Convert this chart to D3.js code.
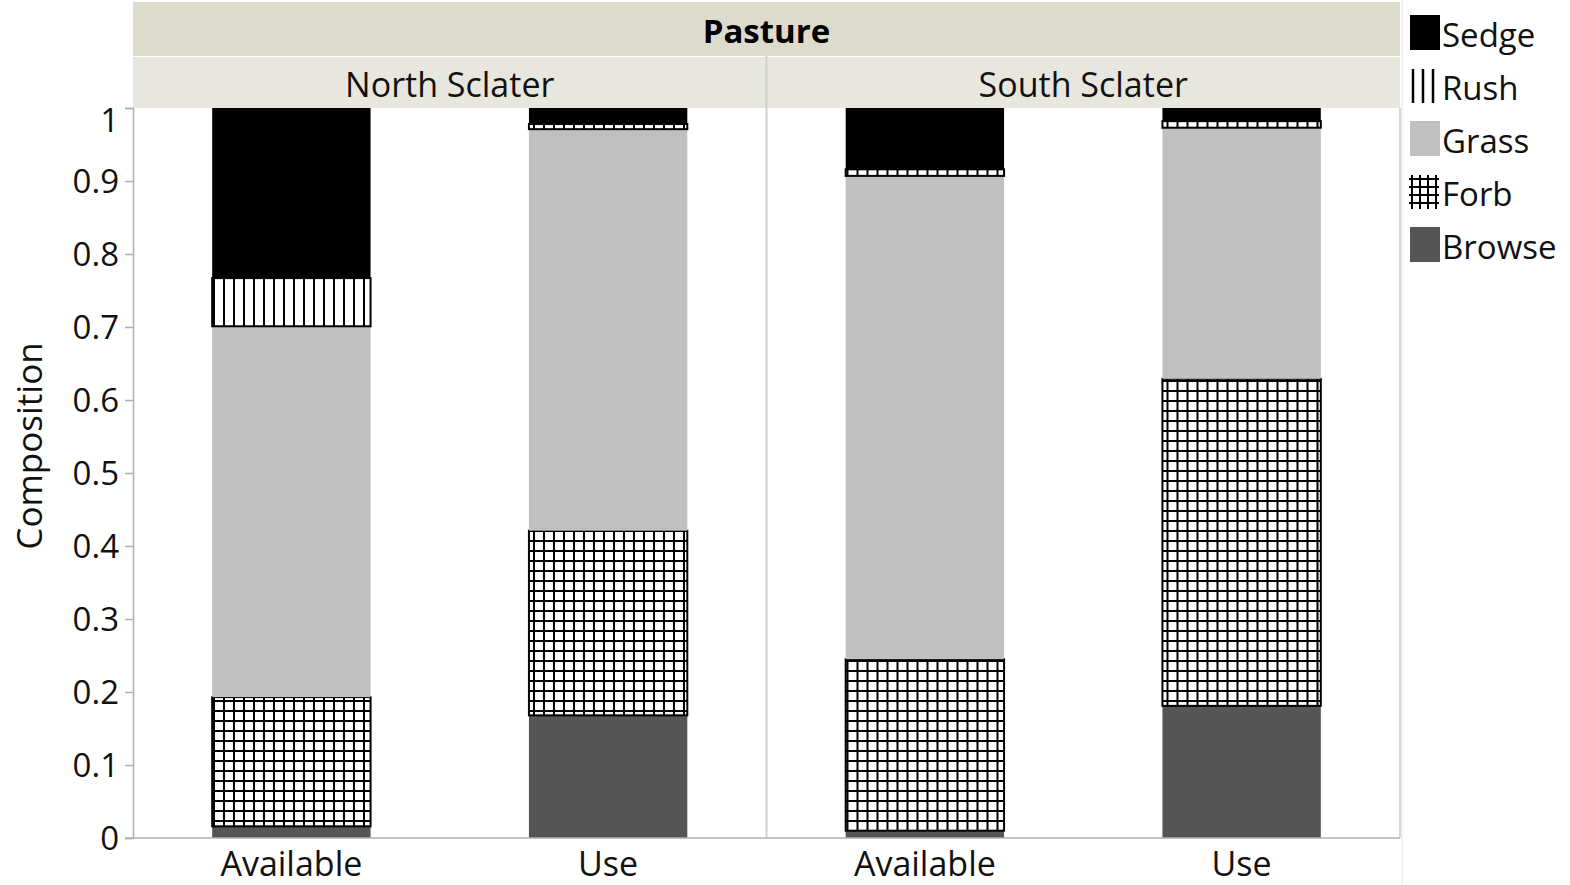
<!DOCTYPE html>
<html><head><meta charset="utf-8">
<script src="https://cdn.jsdelivr.net/npm/d3@7"></script>
<style>body{margin:0;background:#fff;} text{font-family:"Open Sans","Noto Sans",sans-serif;}</style>
</head><body><svg id="c" width="1570" height="885"></svg>
<script>
// ---- data ----
const facetTitle = "Pasture";
const panels = ["North Sclater", "South Sclater"];
const categories = ["Available", "Use"];
const components = ["Browse", "Forb", "Grass", "Rush", "Sedge"]; // bottom to top
const legendOrder = ["Sedge", "Rush", "Grass", "Forb", "Browse"];
// values per panel, per category, in components order
const northAvailable = [0.016, 0.177, 0.508, 0.066, 0.233];
const northUse       = [0.168, 0.253, 0.550, 0.007, 0.022];
const southAvailable = [0.010, 0.235, 0.662, 0.009, 0.084];
const southUse       = [0.181, 0.448, 0.344, 0.009, 0.018];
const yTicks = [0, 0.1, 0.2, 0.3, 0.4, 0.5, 0.6, 0.7, 0.8, 0.9, 1];
const yTitle = "Composition";

const panelData = [[northAvailable, northUse], [southAvailable, southUse]];

const svg = d3.select("#c");
const defs = svg.append("defs");
// patterns
const pr = defs.append("pattern").attr("id","rush").attr("patternUnits","userSpaceOnUse")
  .attr("width",10).attr("height",10);
pr.append("rect").attr("width",10).attr("height",10).attr("fill","#fff");
pr.append("rect").attr("x",0).attr("y",0).attr("width",2).attr("height",10).attr("fill","#000");
const pf = defs.append("pattern").attr("id","forb").attr("patternUnits","userSpaceOnUse")
  .attr("width",10).attr("height",10);
pf.append("rect").attr("width",10).attr("height",10).attr("fill","#fff");
pf.append("rect").attr("x",0).attr("y",0).attr("width",2).attr("height",10).attr("fill","#000");
pf.append("rect").attr("x",0).attr("y",0).attr("width",10).attr("height",2).attr("fill","#000");

const fills = {Sedge:"#000000", Rush:"url(#rush)", Grass:"#c0c0c0", Forb:"url(#forb)", Browse:"#555555"};
const strokes = {Sedge:"none", Rush:"#000", Grass:"none", Forb:"#000", Browse:"none"};

const left = 133, right = 1400, top0 = 2, hdr1 = 56, hdr2 = 107;
const plotTop = 108, plotBot = 838;

const y = d3.scaleLinear().domain([0,1]).range([plotBot, plotTop]);
const px = d3.scaleBand().domain(panels).range([left, right]);
const x = d3.scaleBand().domain(categories).range([0, px.bandwidth()]).paddingInner(0.5).paddingOuter(0.25);

// header bands
svg.append("rect").attr("x",left).attr("y",top0).attr("width",right-left).attr("height",hdr1-top0).attr("fill","#dcdbcc");
svg.append("text").attr("x",(left+right)/2).attr("y",(top0+hdr1)/2+1).attr("text-anchor","middle")
  .attr("dominant-baseline","central").attr("font-size",33).attr("font-weight","bold").attr("fill","#000").text(facetTitle);

panels.forEach((p,i)=>{
  const g = svg.append("g").attr("transform",`translate(${px(p)},0)`);
  g.append("rect").attr("x",0).attr("y",hdr1+1).attr("width",px.bandwidth()).attr("height",hdr2-hdr1).attr("fill","#e8e7df");
  g.append("text").attr("x",px.bandwidth()/2).attr("y",(hdr1+hdr2)/2+2).attr("text-anchor","middle")
    .attr("dominant-baseline","central").attr("font-size",34).attr("fill","#111").text(p);
  categories.forEach((c,j)=>{
    const vals = panelData[i][j];
    let cum = 0;
    components.forEach((comp,k)=>{
      const y0 = cum, y1 = cum + vals[k]; cum = y1;
      g.append("rect").attr("x",x(c)).attr("y",y(y1)).attr("width",x.bandwidth()).attr("height",y(y0)-y(y1))
        .attr("fill",fills[comp]).attr("stroke",strokes[comp]).attr("stroke-width",2);
    });
  });
  // x labels
  categories.forEach(c=>{
    g.append("text").attr("x",x(c)+x.bandwidth()/2).attr("y",876).attr("text-anchor","middle")
      .attr("font-size",34).attr("fill","#111").text(c);
  });
});
// panel divider lines
svg.append("line").attr("x1",px(panels[1])).attr("x2",px(panels[1])).attr("y1",hdr1).attr("y2",plotBot).attr("stroke","#d0d0d0").attr("stroke-width",2);
svg.append("line").attr("x1",right).attr("x2",right).attr("y1",plotTop).attr("y2",plotBot).attr("stroke","#c8c8c8").attr("stroke-width",1.5);
svg.append("line").attr("x1",right+2).attr("x2",right+2).attr("y1",0).attr("y2",885).attr("stroke","#e4e4e4").attr("stroke-width",1);

// y axis
const ya = svg.append("g").attr("transform",`translate(${left},0)`)
  .call(d3.axisLeft(y).tickValues(yTicks).tickSize(8).tickPadding(6).tickFormat(d=>d3.format("")(+d.toFixed(1))));
ya.select(".domain").attr("stroke","#b0b0b0").attr("stroke-width",1.5);
ya.selectAll(".tick line").attr("stroke","#b0b0b0").attr("stroke-width",1.5);
ya.selectAll(".tick text").attr("font-size",33).attr("fill","#111").attr("font-family","'Open Sans',sans-serif")
  .attr("dy", d => d === 1 ? "0.7em" : "0.35em");
// bottom axis line
svg.append("line").attr("x1",left-8).attr("x2",right).attr("y1",plotBot).attr("y2",plotBot).attr("stroke","#b0b0b0").attr("stroke-width",1.5);

svg.append("text").attr("transform",`translate(42,446) rotate(-90)`).attr("text-anchor","middle")
  .attr("font-size",35).attr("fill","#111").text(yTitle);

// legend
const lg = svg.append("g").attr("transform","translate(1409,0)");
legendOrder.forEach((n,i)=>{
  const cy = 33 + i*53;
  const row = lg.append("g");
  if (n==="Rush") {
    [4,14,24].forEach(xx=>row.append("line").attr("x1",xx).attr("x2",xx).attr("y1",cy-17).attr("y2",cy+17).attr("stroke","#000").attr("stroke-width",2.5));
  } else if (n==="Forb") {
    [3,11,19,27].forEach(v=>{
      row.append("line").attr("x1",v).attr("x2",v).attr("y1",cy-17).attr("y2",cy+17).attr("stroke","#000").attr("stroke-width",2);
    });
    [cy-13,cy-5,cy+3,cy+11].forEach(v=>{
      row.append("line").attr("x1",0).attr("x2",30).attr("y1",v).attr("y2",v).attr("stroke","#000").attr("stroke-width",2);
    });
  } else {
    row.append("rect").attr("x",1).attr("y",cy-18).attr("width",30).attr("height",35).attr("fill",fills[n]);
  }
  row.append("text").attr("x",33).attr("y",cy+1).attr("dominant-baseline","central").attr("font-size",33).attr("fill","#111").text(n);
});
</script></body></html>
